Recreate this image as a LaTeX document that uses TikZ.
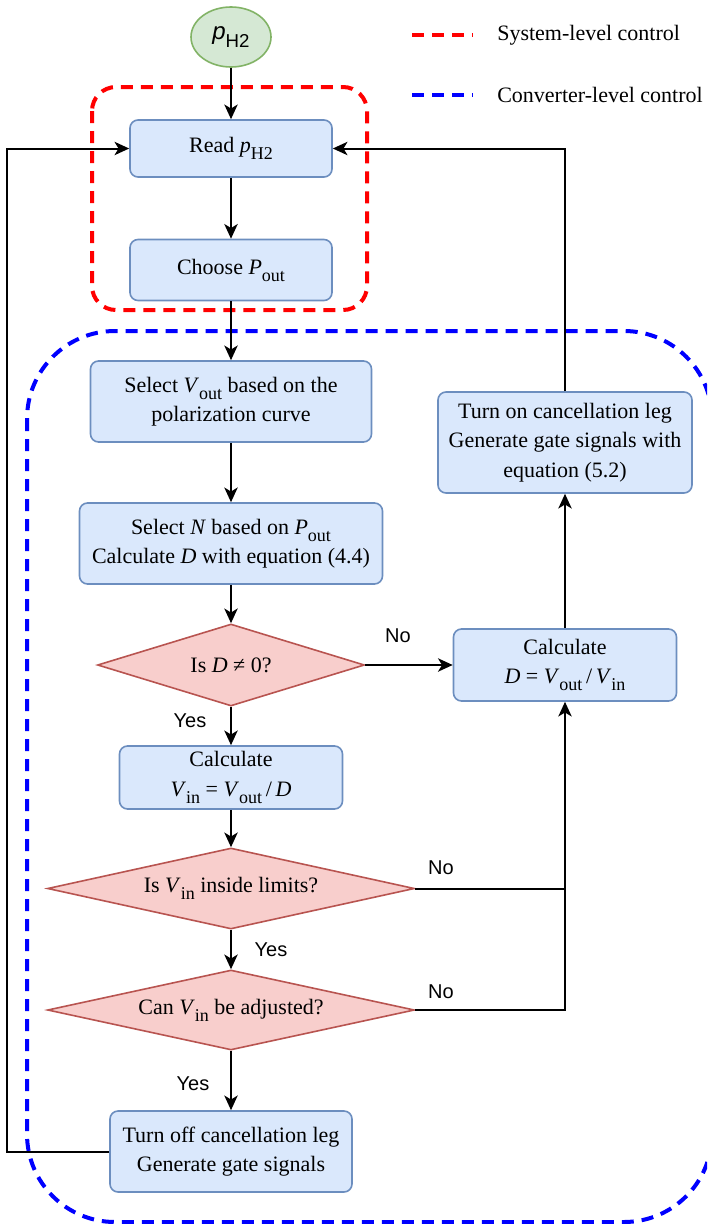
\documentclass[tikz,border=0pt]{standalone}
\usepackage{fontspec}
\setmainfont{Liberation Serif}
\newfontfamily\labelfont{Liberation Sans}
\usetikzlibrary{shapes.geometric,arrows.meta}

\definecolor{procfill}{HTML}{DAE8FC}
\definecolor{procline}{HTML}{6C8EBF}
\definecolor{decfill}{HTML}{F8CECC}
\definecolor{decline}{HTML}{B85450}
\definecolor{startfill}{HTML}{D5E8D4}
\definecolor{startline}{HTML}{82B366}

\newcommand{\lowidx}[1]{\raisebox{-0.32em}{\fontsize{13.5}{14}\selectfont #1}}

\tikzset{
  procbox/.style={draw=procline, fill=procfill, line width=1.2pt, rounded corners=6pt,
    align=center, inner sep=0pt, font=\fontsize{16.5}{22}\selectfont},
  decbox/.style={diamond, aspect=4.5, draw=decline, fill=decfill, line width=1.2pt,
    inner sep=0pt, align=center, font=\fontsize{16.5}{22}\selectfont},
  startnode/.style={ellipse, draw=startline, fill=startfill, line width=1.2pt,
    minimum width=60pt, minimum height=45pt, inner sep=0pt, font=\labelfont\fontsize{18}{20}\selectfont},
  flow/.style={line width=1.5pt, -{Stealth[length=11pt,width=10pt,inset=3pt]}},
  link/.style={line width=1.5pt},
  lbl/.style={font=\labelfont\fontsize{15}{18}\selectfont, inner sep=0pt},
  legendtext/.style={anchor=west, inner sep=0pt, font=\fontsize{16.5}{20}\selectfont},
  sysline/.style={draw=red, line width=3pt, dash pattern=on 9pt off 6pt, rounded corners=18pt},
  convline/.style={draw=blue, line width=3pt, dash pattern=on 9pt off 6pt, rounded corners=66pt}
}

\begin{document}
\begin{tikzpicture}[x=0.75pt,y=0.75pt,yscale=-1,xscale=1]
\useasboundingbox (0,0) rectangle (707,1224);
\clip (0,0) rectangle (707,1224);

%Shape: Rounded Rect, system level
\draw [sysline] (92,87) rectangle (367,310);
%Shape: Rounded Rect, converter level
\draw [convline] (27,331) rectangle (712,1222);

%Legend
\draw [sysline] (412,35) -- (473,35);
\node (syslegend) at (497,35) [legendtext] {System-level control};
\draw [convline] (412,95) -- (473,95);
\node (convlegend) at (497,95) [legendtext] {Converter-level control};

% Start
\node (ph2) at (231,37) [startnode] {{\itshape p}\raisebox{-0.3em}{\fontsize{14}{14}\selectfont H2}};

% Process boxes
\node (read) at (231,148.5) [procbox, minimum width=151.5pt, minimum height=42.75pt] {Read \textit{p}\lowidx{H2}};
\node (choose) at (231,270) [procbox, minimum width=151.5pt, minimum height=45.75pt] {Choose \textit{P}\lowidx{out}};
\node (vsel) at (231,401.5) [procbox, minimum width=210.75pt, minimum height=60.75pt] {Select \textit{V}\lowidx{out} based on the\\ polarization curve};
\node (nsel) at (231,543.5) [procbox, minimum width=227.25pt, minimum height=60.75pt] {Select \textit{N} based on \textit{P}\lowidx{out}\\ Calculate \textit{D} with equation (4.4)};
\node (vin) at (231,777.5) [procbox, minimum width=167.25pt, minimum height=47.25pt] {Calculate\\ \textit{V}\lowidx{in} = \textit{V}\lowidx{out}\,/\,\textit{D}};
\node (off) at (231,1151.5) [procbox, minimum width=181.5pt, minimum height=60.75pt] {Turn off cancellation leg\\ Generate gate signals};
\node (calcd) at (565,665) [procbox, minimum width=167.25pt, minimum height=54pt] {Calculate\\ \textit{D} = \textit{V}\lowidx{out}\,/\,\textit{V}\lowidx{in}};
\node (on) at (565,442.5) [procbox, minimum width=190.5pt, minimum height=75.75pt] {Turn on cancellation leg\\ Generate gate signals with\\ equation (5.2)};

% Decisions
\node (dzero) at (231,665) [decbox, aspect=3.3, minimum width=200.25pt, minimum height=61.5pt] {Is \textit{D} ≠ 0?};
\node (lim) at (231,888.5) [decbox, minimum width=275.25pt, minimum height=60.75pt] {Is \textit{V}\lowidx{in} inside limits?};
\node (adj) at (231,1010) [decbox, minimum width=275.25pt, minimum height=60pt] {Can \textit{V}\lowidx{in} be adjusted?};

% Connectors
\draw [flow] (ph2) -- (read);
\draw [flow] (read) -- (choose);
\draw [flow] (choose) -- (vsel);
\draw [flow] (vsel) -- (nsel);
\draw [flow] (nsel) -- (dzero);
\draw [flow] (dzero.east) -- (calcd.west);
\draw [flow] (dzero.south) -- (vin);
\draw [flow] (vin) -- (lim.north);
\draw [flow] (lim.south) -- (adj.north);
\draw [flow] (adj.south) -- (off);
\draw [flow] (lim.east) -| (calcd.south);
\draw [link] (adj.east) -| (lim.east -| calcd.south);
\draw [flow] (calcd) -- (on);
\draw [flow] (on.north) |- (read.east);
\draw [flow] (off.west) -- ++(-102,0) |- (read.west);

% Text Node
\node (no1) at (398,636) [lbl] {No};
\node (yes1) at (190,721) [lbl] {Yes};
\node (no2) at (441,868) [lbl] {No};
\node (yes2) at (271,950) [lbl] {Yes};
\node (no3) at (441,992) [lbl] {No};
\node (yes3) at (193,1084) [lbl] {Yes};

\end{tikzpicture}
\end{document}
